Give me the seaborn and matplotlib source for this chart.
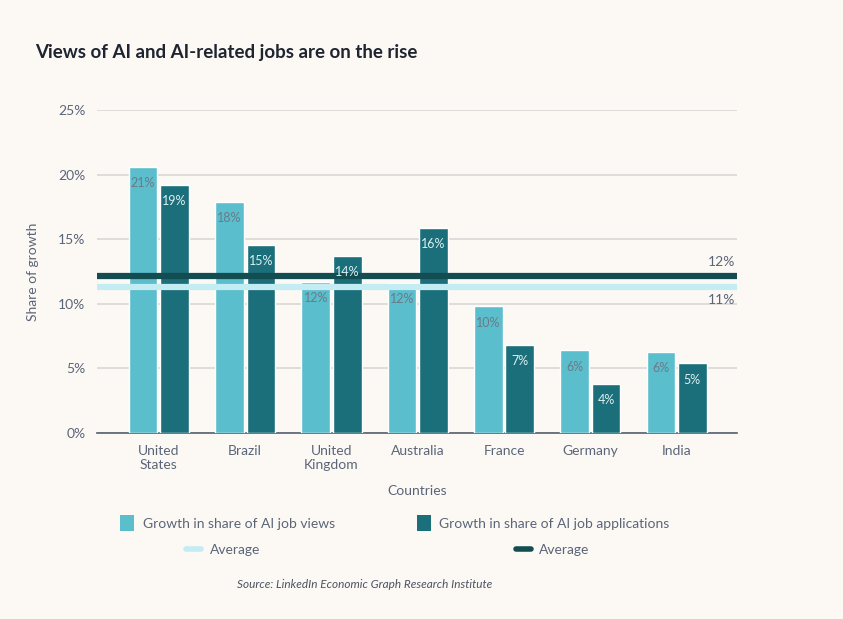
import numpy as np
import pandas as pd
import matplotlib
matplotlib.use("Agg")
import matplotlib.pyplot as plt
from matplotlib.patches import Patch
from matplotlib.lines import Line2D
import seaborn as sb

# values (percent)
countries = ["United\nStates", "Brazil", "United\nKingdom", "Australia", "France", "Germany", "India"]
views = [20.6, 17.9, 11.7, 11.6, 9.8, 6.4, 6.3]
applications = [19.2, 14.6, 13.7, 15.9, 6.8, 3.8, 5.4]
avg_views = 11.3
avg_applications = 12.2
series_names = ["Growth in share of AI job views", "Growth in share of AI job applications"]

light = "#5bbecd"
dark = "#1b6f7a"
light_avg = "#c3ecf3"
dark_avg = "#134d52"
bg = "#fcf9f5"
txt = "#5b6578"

df = pd.DataFrame({
    "Countries": countries * 2,
    "value": views + applications,
    "series": [series_names[0]] * len(views) + [series_names[1]] * len(applications),
})

sb.set_style("white")
plt.rcParams["font.family"] = ["Lato", "DejaVu Sans"]

fig = plt.figure(figsize=(8.43, 6.19), dpi=100, facecolor=bg)
ax = fig.add_axes([0.1147, 0.3005, 0.7596, 0.5213], facecolor=bg)

sb.barplot(data=df, x="Countries", y="value", hue="series", palette=[light, dark],
           width=0.73, gap=0.09, saturation=1, ax=ax, legend=False, zorder=3)

for container, color in zip(ax.containers, ["#6a7b88", "#dcefF1"]):
    ax.bar_label(container, labels=[f"{v:.0f}%" for v in container.datavalues],
                 label_type="edge", padding=-16, color=color, fontsize=9, zorder=5)

ax.set_ylim(0, 25)
ax.set_xlim(-0.72, 6.70)
ax.set_yticks([0, 5, 10, 15, 20, 25])
ax.set_yticklabels([f"{t}%" for t in [0, 5, 10, 15, 20, 25]])
ax.yaxis.grid(True, color="#d8d8d8", linewidth=1.2, zorder=0)
ax.set_axisbelow(True)
for s in ["top", "right", "left"]:
    ax.spines[s].set_visible(False)
ax.spines["bottom"].set_color("#56606e")
ax.spines["bottom"].set_linewidth(1.2)
ax.tick_params(axis="both", length=0, labelsize=10, labelcolor=txt)
ax.tick_params(axis="y", pad=8)
ax.tick_params(axis="x", pad=9)

ax.axhline(avg_applications, color=dark_avg, linewidth=4.5, zorder=4)
ax.axhline(avg_views, color=light_avg, linewidth=4.5, zorder=4)
ax.text(6.68, avg_applications + 0.55, f"{avg_applications:.0f}%", ha="right", va="bottom",
        color=txt, fontsize=10)
ax.text(6.68, avg_views - 0.55, f"{avg_views:.0f}%", ha="right", va="top",
        color=txt, fontsize=10)

ax.set_xlabel("Countries", color=txt, fontsize=10, labelpad=10)
ax.set_ylabel("Share of growth", color=txt, fontsize=10, labelpad=14)

fig.text(0.042, 0.915, "Views of AI and AI-related jobs are on the rise", fontsize=13.5,
         fontweight="bold", color="#1e2430", va="center")

fig.legend(handles=[Patch(facecolor=light, edgecolor="none", label=series_names[0]),
                    Patch(facecolor=dark, edgecolor="none", label=series_names[1])],
           loc="center left", bbox_to_anchor=(0.128, 0.155), ncol=2, frameon=False,
           handlelength=1.0, handleheight=1.4, handletextpad=0.6, columnspacing=5.9,
           prop={"size": 10}, labelcolor=txt)
fig.legend(handles=[Line2D([], [], color=light_avg, linewidth=4, label="Average"),
                    Line2D([], [], color=dark_avg, linewidth=4, label="Average")],
           loc="center left", bbox_to_anchor=(0.206, 0.111), ncol=2, frameon=False,
           handlelength=1.1, handletextpad=0.6, columnspacing=18.4,
           prop={"size": 10}, labelcolor=txt)

fig.text(0.281, 0.055, "Source: LinkedIn Economic Graph Research Institute", fontsize=8.5,
         style="italic", color="#4a5262", va="center")

plt.savefig("out.png", dpi=100, facecolor=bg)
